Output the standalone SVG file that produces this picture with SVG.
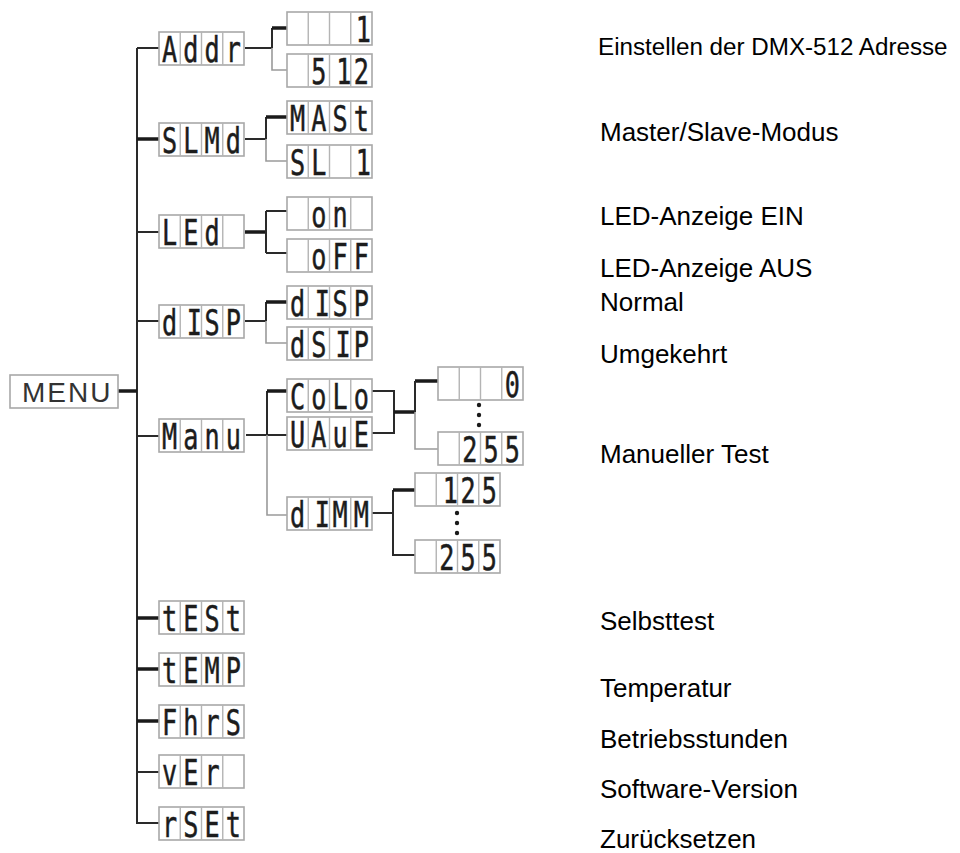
<svg xmlns="http://www.w3.org/2000/svg" width="960" height="853" viewBox="0 0 960 853">
<style>
.c{stroke:#2a2a2a;stroke-width:2;fill:none}
.ct{stroke:#1a1a1a;stroke-width:3.5;fill:none}
.cg{stroke:#9a9a9a;stroke-width:1.6;fill:none}
.frame{fill:#fff;stroke:#a8a8a8;stroke-width:1.6}
.cell{stroke:#b4b4b4;stroke-width:1.4}
.seg{font-family:"DejaVu Sans Mono",monospace;font-size:35px;fill:#1c1c1c;stroke:#1c1c1c;stroke-width:0.5}
.lbl{font-family:"Liberation Sans",Arial,sans-serif;font-size:26px;fill:#000}
.menu{font-family:"Liberation Sans",Arial,sans-serif;font-size:28px;letter-spacing:2px;fill:#333}
.dot{fill:#1a1a1a}
</style>
<defs>
<g id="disp">
<rect class="frame" x="0" y="0" width="85" height="33"/>
<path class="cell" d="M21.25,0V33M42.5,0V33M63.75,0V33"/>
</g>
</defs>

<g id="connectors">
<path class="c" d="M137,48V824"/>
<path class="ct" d="M118,391H137"/>
<path class="c" d="M137,48H159"/>
<path class="ct" d="M137,139H159"/>
<path class="c" d="M137,232H159"/>
<path class="c" d="M137,321H159"/>
<path class="c" d="M137,436H159"/>
<path class="ct" d="M137,618H159"/>
<path class="ct" d="M137,669H159"/>
<path class="ct" d="M137,721H159"/>
<path class="c" d="M137,772H159"/>
<path class="c" d="M137,823H159"/>

<path class="c" d="M245,48H272M272,28V48"/>
<path class="cg" d="M272,48V70H287"/>
<path class="ct" d="M272,28H287"/>

<path class="c" d="M245,139H266M266,117V139"/>
<path class="cg" d="M266,139V161H287"/>
<path class="ct" d="M266,117H287"/>

<path class="ct" d="M245,232H266"/>
<path class="c" d="M266,211V253M266,211H287M266,253H287"/>

<path class="c" d="M245,321H266M266,302V321"/>
<path class="cg" d="M266,321V343H287"/>
<path class="ct" d="M266,302H287"/>

<path class="c" d="M246,435H287M267,391V435"/>
<path class="cg" d="M267,435V515H287"/>
<path class="ct" d="M267,391H287"/>

<path class="c" d="M372,391H394V433H372"/>
<path class="ct" d="M394,412H415M415,381H438"/>
<path class="c" d="M415,381V412"/>
<path class="cg" d="M415,412V449H438"/>

<path class="c" d="M372,513H393M393,490V555H415"/>
<path class="ct" d="M393,490H415"/>

<circle class="dot" cx="479" cy="405" r="2.2"/>
<circle class="dot" cx="479" cy="415" r="2.2"/>
<circle class="dot" cx="479" cy="425" r="2.2"/>
<circle class="dot" cx="457" cy="513" r="2.2"/>
<circle class="dot" cx="457" cy="523" r="2.2"/>
<circle class="dot" cx="457" cy="533" r="2.2"/>
</g>

<g id="menu">
<rect class="frame" x="10" y="375" width="108" height="33"/>
<text class="menu" x="22" y="402">MENU</text>
</g>

<g id="addr" transform="translate(159,32)"><use href="#disp"/><text class="seg" transform="scale(0.72,1)" x="14.76 44.27 73.78 103.3" y="30" text-anchor="middle">Addr</text></g>
<g id="addr-1" transform="translate(287,12)"><use href="#disp"/><text class="seg" transform="scale(0.72,1)" x="106" y="30" text-anchor="middle">1</text></g>
<g id="addr-512" transform="translate(287,54)"><use href="#disp"/><text class="seg" transform="scale(0.72,1)" x="44.27 79 103.3" y="30" text-anchor="middle">512</text></g>

<g id="slmd" transform="translate(159,123)"><use href="#disp"/><text class="seg" transform="scale(0.72,1)" x="14.76 44.27 73.78 103.3" y="30" text-anchor="middle">SLMd</text></g>
<g id="mast" transform="translate(287,101)"><use href="#disp"/><text class="seg" transform="scale(0.72,1)" x="14.76 44.27 73.78 103.3" y="30" text-anchor="middle">MASt</text></g>
<g id="sl1" transform="translate(287,145)"><use href="#disp"/><text class="seg" transform="scale(0.72,1)" x="14.76 44.27 106" y="30" text-anchor="middle">SL1</text></g>

<g id="led" transform="translate(159,215)"><use href="#disp"/><text class="seg" transform="scale(0.72,1)" x="14.76 44.27 73.78" y="30" text-anchor="middle">LEd</text></g>
<g id="on" transform="translate(287,197)"><use href="#disp"/><text class="seg" transform="scale(0.72,1)" x="44.27 73.78" y="30" text-anchor="middle">on</text></g>
<g id="off" transform="translate(287,239)"><use href="#disp"/><text class="seg" transform="scale(0.72,1)" x="44.27 73.78 103.3" y="30" text-anchor="middle">oFF</text></g>

<g id="disp1" transform="translate(159,305)"><use href="#disp"/><text class="seg" transform="scale(0.72,1)" x="14.76 49 73.78 103.3" y="30" text-anchor="middle">dISP</text></g>
<g id="disp2" transform="translate(287,286)"><use href="#disp"/><text class="seg" transform="scale(0.72,1)" x="14.76 49 73.78 103.3" y="30" text-anchor="middle">dISP</text></g>
<g id="dsip" transform="translate(287,327)"><use href="#disp"/><text class="seg" transform="scale(0.72,1)" x="14.76 44.27 78 103.3" y="30" text-anchor="middle">dSIP</text></g>

<g id="manu" transform="translate(159,419)"><use href="#disp"/><text class="seg" transform="scale(0.72,1)" x="14.76 44.27 73.78 103.3" y="30" text-anchor="middle">Manu</text></g>
<g id="colo" transform="translate(287,379)"><use href="#disp"/><text class="seg" transform="scale(0.72,1)" x="14.76 44.27 73.78 103.3" y="30" text-anchor="middle">CoLo</text></g>
<g id="uaue" transform="translate(287,417)"><use href="#disp"/><text class="seg" transform="scale(0.72,1)" x="14.76 44.27 73.78 103.3" y="30" text-anchor="middle">UAuE</text></g>
<g id="dimm" transform="translate(287,497)"><use href="#disp"/><text class="seg" transform="scale(0.72,1)" x="14.76 49 73.78 103.3" y="30" text-anchor="middle">dIMM</text></g>

<g id="val-0" transform="translate(438,367)"><use href="#disp"/><text class="seg" transform="scale(0.72,1)" x="103.3" y="30" text-anchor="middle">0</text></g>
<g id="val-255a" transform="translate(438,432)"><use href="#disp"/><text class="seg" transform="scale(0.72,1)" x="44.27 73.78 103.3" y="30" text-anchor="middle">255</text></g>
<g id="val-125" transform="translate(415,473)"><use href="#disp"/><text class="seg" transform="scale(0.72,1)" x="49 73.78 103.3" y="30" text-anchor="middle">125</text></g>
<g id="val-255b" transform="translate(415,540)"><use href="#disp"/><text class="seg" transform="scale(0.72,1)" x="44.27 73.78 103.3" y="30" text-anchor="middle">255</text></g>

<g id="test" transform="translate(159,601)"><use href="#disp"/><text class="seg" transform="scale(0.72,1)" x="14.76 44.27 73.78 103.3" y="30" text-anchor="middle">tESt</text></g>
<g id="temp" transform="translate(159,653)"><use href="#disp"/><text class="seg" transform="scale(0.72,1)" x="14.76 44.27 73.78 103.3" y="30" text-anchor="middle">tEMP</text></g>
<g id="fhrs" transform="translate(159,705)"><use href="#disp"/><text class="seg" transform="scale(0.72,1)" x="14.76 44.27 73.78 103.3" y="30" text-anchor="middle">FhrS</text></g>
<g id="ver" transform="translate(159,755)"><use href="#disp"/><text class="seg" transform="scale(0.72,1)" x="14.76 44.27 73.78" y="30" text-anchor="middle">vEr</text></g>
<g id="rset" transform="translate(159,807)"><use href="#disp"/><text class="seg" transform="scale(0.72,1)" x="14.76 44.27 73.78 103.3" y="30" text-anchor="middle">rSEt</text></g>

<g id="labels">
<text class="lbl" x="598" y="55" style="font-size:24.2px">Einstellen der DMX-512 Adresse</text>
<text class="lbl" x="600" y="141">Master/Slave-Modus</text>
<text class="lbl" x="600" y="225">LED-Anzeige EIN</text>
<text class="lbl" x="600" y="277">LED-Anzeige AUS</text>
<text class="lbl" x="600" y="311">Normal</text>
<text class="lbl" x="600" y="363">Umgekehrt</text>
<text class="lbl" x="600" y="463">Manueller Test</text>
<text class="lbl" x="600" y="630">Selbsttest</text>
<text class="lbl" x="600" y="697">Temperatur</text>
<text class="lbl" x="600" y="748">Betriebsstunden</text>
<text class="lbl" x="600" y="798">Software-Version</text>
<text class="lbl" x="600" y="848">Zurücksetzen</text>
</g>
</svg>
